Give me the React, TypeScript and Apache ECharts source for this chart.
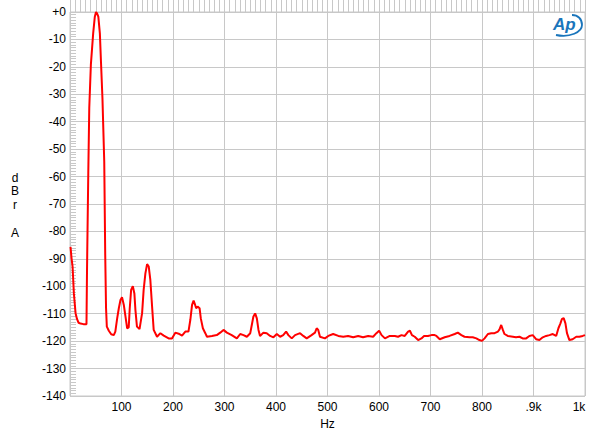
import React, { useEffect, useRef } from "react";
import * as echarts from "echarts";

const freqHz: number[] = [
  1, 3, 5, 7.5, 10.8, 13.7, 16.7, 20.5, 26, 32, 33, 35.5, 37.4, 40.5, 45, 48.2, 50.5, 52.5, 55, 58,
  60, 63, 66.5, 68.4, 70, 71.5, 75.4, 80, 85, 88, 91.6, 94.8, 98, 101, 104.5, 107.7, 111, 114, 116, 118.7,
  122, 125, 127, 130, 135, 140, 143, 146.4, 149.7, 152.9, 156, 159.4, 162.5, 169, 175.5, 182, 191.6, 198, 204.5, 211,
  217.5, 224, 230, 233.6, 237, 240, 243, 245, 247.8, 251.6, 254, 258, 262.7, 266, 275.6, 285, 291.7, 298, 304.6, 314,
  324, 330.5, 336.9, 343.4, 350, 353, 356, 359.5, 362.8, 366, 369, 375.6, 382, 388.6, 395, 401.6, 408, 414, 419.6, 424,
  430.6, 437, 446.7, 453, 459.6, 469, 475.7, 479, 482, 485.4, 495, 501.5, 511, 521, 530.6, 540, 550, 559.6, 569, 579,
  588.6, 595, 600.3, 605, 611.6, 621, 630.7, 637, 643.7, 650, 656.5, 660, 664, 669.4, 676, 682.4, 687.5, 695, 702, 708,
  711.5, 718, 727.6, 737, 747, 753, 760, 766, 776, 782, 789, 795, 800, 805, 811.5, 818, 824.4, 831, 834, 837.3,
  840.5, 843.7, 850, 860, 866, 872.7, 879, 885.7, 892, 898.5, 905, 911.5, 918, 924.5, 931, 937.4, 944, 948.4, 952.3, 955,
  958.6, 962, 965, 969.7, 976, 983, 989, 995.5, 1000,
];

const levelDb: number[] = [
  -85.6, -89.8, -92.8, -102.5, -109.8, -112, -113.3, -113.6, -113.8, -113.8, -94.7, -58.8, -35.1, -19.3, -7.8, -1.7, 0, -0.5, -1.7, -7.8,
  -17.5, -31.4, -54.6, -88.6, -108, -114.7, -116.2, -117.5, -117.8, -116.5, -111.7, -108, -105, -104, -106.8, -111, -115.3, -115, -108, -101.3,
  -100, -102.6, -108.6, -114.7, -115.6, -109.8, -101.3, -95.3, -91.9, -92.8, -97.7, -107.4, -115.9, -118.4, -117.1, -118, -119, -119, -116.9, -117.3,
  -118, -116.5, -116.5, -112.3, -106.8, -105.2, -106.8, -108, -107.4, -108, -111.7, -115.3, -117.1, -118.4, -118.1, -117.8, -116.9, -115.9, -116.9, -117.8,
  -119, -117.4, -117.8, -118.4, -117.1, -114.1, -111.1, -109.9, -111.7, -115.9, -118.1, -116.9, -117.1, -118.1, -118.6, -117.4, -118.4, -117.8, -116.5, -117.8,
  -119, -117.8, -117.1, -118.1, -119, -117.8, -116.9, -115.3, -115.9, -118.4, -119, -118.1, -117.4, -118.1, -118.4, -118.1, -118.6, -118.1, -118.6, -118.1,
  -118.4, -117.1, -116.2, -117.8, -119, -118.1, -118.1, -118.4, -117.8, -118.1, -116.5, -116.2, -117.8, -118.4, -119.6, -119, -118.1, -118.1, -117.8, -117.8,
  -118.1, -119.3, -118.6, -118.1, -117.4, -116.9, -117.8, -118.4, -118.6, -118.6, -119, -119.6, -119.9, -119, -117.4, -117.1, -117.1, -116.5, -115.7, -114.1,
  -115.9, -117.4, -118.1, -118.4, -118.6, -118.4, -119, -119, -118.1, -117.8, -119.3, -119.6, -118.6, -118.1, -117.8, -117.4, -118.1, -115.3, -113.5, -112,
  -111.6, -113.5, -117.1, -119.6, -119.3, -118.4, -118.4, -118.1, -117.8,
];

const yTickLabels: Record<number, string> = { 0: "+0" };
const xTickLabels: Record<number, string> = { 0: "", 900: ".9k", 1000: "1k" };
const yAxisTitle: string[] = ["d", "B", "r", "A"];
const xAxisTitle = "Hz";

const FONT = "'Liberation Sans', Arial, Helvetica, sans-serif";
const GRID_COLOR = "#c8c8c8";

echarts.graphic.registerShape(
  "apSwoosh",
  echarts.graphic.extendPath("M 4 23 C 18 26, 30 20, 30 13 C 30 7, 26 3, 20 3", {})
);

export default function App() {
  const ref = useRef<HTMLDivElement>(null);

  useEffect(() => {
    if (!ref.current) return;
    const chart = echarts.init(ref.current, null, { renderer: "svg" });
    const data = freqHz.map((f, i) => [f, levelDb[i]]);
    const titleYs = [178, 191, 205, 233];

    chart.setOption({
      animation: false,
      backgroundColor: "#ffffff",
      grid: {
        left: 70,
        top: 12,
        width: 515,
        height: 384,
        show: true,
        borderColor: GRID_COLOR,
        borderWidth: 1,
        backgroundColor: "transparent",
      },
      xAxis: {
        type: "value",
        min: 0,
        max: 1000,
        interval: 100,
        axisLine: { show: false },
        axisTick: { show: true, inside: true, length: 14, lineStyle: { color: GRID_COLOR } },
        minorTick: { show: true, splitNumber: 10, length: 14, lineStyle: { color: GRID_COLOR } },
        splitLine: { show: true, lineStyle: { color: GRID_COLOR, width: 1 } },
        axisLabel: {
          margin: 5,
          fontSize: 12,
          color: "#000",
          fontFamily: FONT,
          formatter: (v: number) => {
            if (v === 1000) return "{r|1k}";
            return v in xTickLabels ? xTickLabels[v] : String(v);
          },
          rich: { r: { fontSize: 12, color: "#000", fontFamily: FONT, padding: [0, 12, 0, 0] } },
        },
      },
      yAxis: {
        type: "value",
        min: -140,
        max: 0,
        interval: 10,
        axisLine: { show: false },
        axisTick: { show: true, inside: true, length: 6, lineStyle: { color: GRID_COLOR } },
        minorTick: { show: true, splitNumber: 10, length: 6, lineStyle: { color: GRID_COLOR } },
        splitLine: { show: true, lineStyle: { color: GRID_COLOR, width: 1 } },
        axisLabel: {
          margin: 4,
          fontSize: 12,
          color: "#000",
          fontFamily: FONT,
          formatter: (v: number) => (v in yTickLabels ? yTickLabels[v] : String(v)),
        },
      },
      series: [
        {
          type: "line",
          data,
          showSymbol: false,
          symbol: "none",
          lineStyle: { color: "#ff0000", width: 2 },
          clip: true,
        },
      ],
      graphic: [
        ...yAxisTitle.map((t, i) => ({
          type: "text",
          x: 15,
          y: titleYs[i],
          style: {
            text: t,
            fontSize: 12,
            fontFamily: FONT,
            fill: "#000",
            align: "center",
            verticalAlign: "middle",
          },
        })),
        {
          type: "text",
          x: 327.5,
          y: 424,
          style: {
            text: xAxisTitle,
            fontSize: 12,
            fontFamily: FONT,
            fill: "#000",
            align: "center",
            verticalAlign: "middle",
          },
        },
        {
          type: "text",
          x: 553,
          y: 24,
          style: {
            text: "Ap",
            fontSize: 17,
            fontStyle: "italic",
            fontWeight: "bold",
            fontFamily: FONT,
            fill: "#1a75bb",
            align: "left",
            verticalAlign: "middle",
          },
        },
        {
          type: "apSwoosh",
          x: 552,
          y: 12,
          style: { stroke: "#1a75bb", fill: "none", lineWidth: 1.8 },
        },
      ],
    });

    return () => chart.dispose();
  }, []);

  return (
    <div
      ref={ref}
      style={{ position: "fixed", left: 0, top: 0, width: 600, height: 439, background: "#fff" }}
    />
  );
}
